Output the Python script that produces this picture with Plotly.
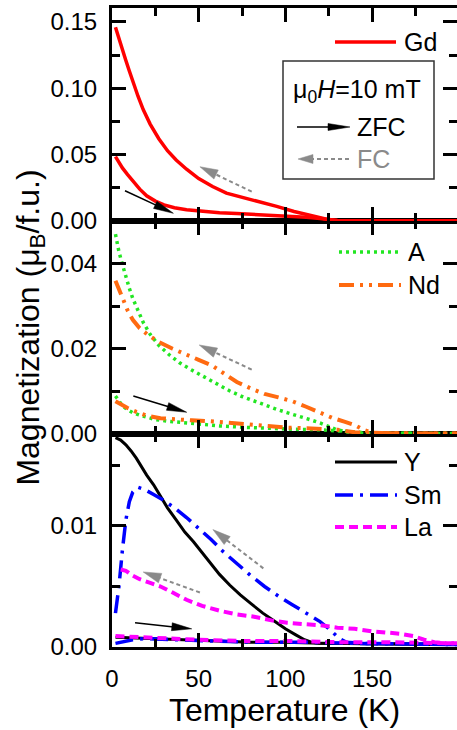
import plotly.graph_objects as go
import math

# ---------------- data ----------------
gd_fc_T = [2, 4, 6, 8, 10, 12, 15, 18, 22, 27, 32, 37, 43, 50, 58, 66, 75, 85, 95, 105, 113, 120, 125, 130, 150, 199]
gd_fc_M = [0.146, 0.137, 0.129, 0.121, 0.113, 0.105, 0.094, 0.084, 0.073, 0.062, 0.053, 0.046, 0.039, 0.032, 0.026, 0.021, 0.018, 0.0145, 0.011, 0.0072, 0.0045, 0.0025, 0.001, 0.0004, 0.0002, 0.0001]
gd_zfc_T = [2, 4, 6, 9, 12, 16, 20, 25, 30, 36, 43, 52, 62, 72, 85, 100, 112, 120, 125, 130, 150, 199]
gd_zfc_M = [0.0485, 0.044, 0.040, 0.035, 0.030, 0.024, 0.019, 0.015, 0.0122, 0.0100, 0.0085, 0.0072, 0.0063, 0.0056, 0.0048, 0.0038, 0.0028, 0.0018, 0.0008, 0.0003, 0.0002, 0.0001]

a_fc_T = [2, 4, 6, 8, 10, 12, 15, 18, 22, 27, 33, 39, 46, 53, 60, 68, 75, 82, 88, 95, 101, 108, 114, 120, 124, 129, 135, 145, 199]
a_fc_M = [0.0469, 0.0428, 0.0398, 0.0368, 0.0342, 0.0318, 0.0288, 0.0262, 0.0234, 0.0208, 0.0186, 0.0167, 0.0150, 0.0134, 0.0118, 0.0101, 0.0088, 0.0077, 0.0068, 0.0058, 0.0050, 0.0042, 0.0034, 0.0026, 0.0020, 0.0011, 0.0005, 0.0002, 0.0001]
a_zfc_T = [2, 4, 6, 9, 12, 16, 20, 25, 32, 40, 50, 62, 75, 90, 105, 120, 130, 140, 150, 199]
a_zfc_M = [0.0089, 0.0076, 0.0066, 0.0057, 0.0050, 0.0044, 0.0039, 0.0034, 0.0030, 0.0027, 0.0023, 0.0019, 0.0016, 0.0013, 0.0011, 0.0010, 0.0008, 0.0004, 0.0002, 0.0001]

nd_fc_T = [2, 4, 6, 9, 12, 16, 21, 27, 35, 43, 50, 58, 65, 72, 80, 88, 96, 104, 112, 120, 127, 134, 140, 145, 150, 160, 199]
nd_fc_M = [0.0360, 0.0340, 0.0317, 0.0290, 0.0268, 0.0248, 0.0232, 0.0216, 0.0200, 0.0187, 0.0174, 0.0160, 0.0140, 0.0122, 0.0107, 0.0094, 0.0086, 0.0077, 0.0064, 0.0050, 0.0038, 0.0029, 0.0021, 0.0010, 0.0003, 0.0002, 0.0001]
nd_zfc_T = [2, 5, 9, 14, 21, 28, 36, 46, 56, 68, 78, 90, 100, 110, 120, 130, 140, 150, 199]
nd_zfc_M = [0.0077, 0.0069, 0.0061, 0.0052, 0.0042, 0.0037, 0.0034, 0.0032, 0.0030, 0.0027, 0.0023, 0.0019, 0.0015, 0.0014, 0.0013, 0.0010, 0.0004, 0.0002, 0.0001]

y_fc_T = [2, 5, 8, 11, 14, 17, 20, 24, 28, 32, 37, 42, 47, 52, 57, 62, 68, 74, 80, 87, 94, 100, 106, 111, 115, 120, 199]
y_fc_M = [0.0173, 0.0171, 0.0167, 0.0162, 0.0156, 0.0149, 0.0142, 0.0134, 0.0125, 0.0115, 0.0105, 0.0095, 0.0087, 0.0078, 0.0069, 0.0060, 0.0051, 0.0043, 0.0036, 0.0028, 0.0021, 0.0015, 0.0010, 0.0006, 0.0004, 0.0003, 0.0002]
y_zfc_T = [2, 20, 40, 60, 80, 100, 120, 199]
y_zfc_M = [0.0008, 0.0007, 0.0006, 0.0005, 0.0004, 0.0004, 0.0003, 0.0002]

sm_fc_T = [2, 4, 6, 8, 10, 12, 15, 19, 24, 30, 36, 43, 50, 57, 64, 72, 80, 88, 96, 104, 112, 120, 126, 131, 135, 145, 199]
sm_fc_M = [0.0028, 0.0050, 0.0080, 0.0105, 0.0120, 0.0128, 0.0132, 0.0130, 0.0126, 0.0121, 0.0115, 0.0107, 0.0098, 0.0089, 0.0079, 0.0069, 0.0059, 0.0050, 0.0042, 0.0035, 0.0028, 0.0021, 0.0014, 0.0007, 0.0004, 0.0003, 0.0002]
sm_zfc_T = [2, 6, 12, 20, 35, 55, 80, 110, 140, 199]
sm_zfc_M = [0.0003, 0.0004, 0.0006, 0.0007, 0.0006, 0.0005, 0.0004, 0.0004, 0.0003, 0.0002]

la_fc_T = [5, 8, 12, 16, 22, 28, 35, 43, 52, 62, 72, 82, 92, 101, 110, 120, 130, 140, 150, 158, 166, 174, 180, 186, 192, 199]
la_fc_M = [0.0064, 0.0063, 0.0059, 0.0056, 0.0053, 0.0050, 0.0045, 0.0039, 0.0034, 0.0030, 0.0027, 0.0025, 0.0022, 0.0020, 0.0019, 0.0018, 0.0016, 0.0015, 0.0013, 0.0012, 0.0011, 0.0009, 0.0006, 0.0004, 0.0003, 0.0003]
la_zfc_T = [2, 15, 30, 50, 75, 100, 130, 160, 199]
la_zfc_M = [0.0009, 0.0008, 0.0007, 0.0006, 0.0005, 0.0005, 0.0004, 0.0004, 0.0003]

x_ticks = [0, 50, 100, 150]
top_ticks = [0.00, 0.05, 0.10, 0.15]
mid_ticks = [0.00, 0.02, 0.04]
bot_ticks = [0.00, 0.01]

# ---------------- layout geometry ----------------
W, H = 457, 730
L, R, TOP, BOT = 112, 457, 8, 647
PH = (BOT - TOP) / 3.0
XR = [0, 199]
YR = {"y": [0, 0.0176], "y2": [0, 0.05], "y3": [0, 0.1605]}
PIDX = {"y": 2, "y2": 1, "y3": 0}
FONT = "Liberation Sans, Arial, sans-serif"

GREEN = "#22e622"
ORANGE = "#ff6a10"
GRAY = "#8a8a8a"

styles = {
    "Gd": dict(color="red", width=3.5, dash="solid"),
    "A": dict(color=GREEN, width=3.5, dash="3px,4px"),
    "Nd": dict(color=ORANGE, width=4, dash="15px,6px,3px,6px,3px,6px"),
    "Y": dict(color="black", width=3, dash="solid"),
    "Sm": dict(color="blue", width=3.5, dash="18px,7px,3px,7px"),
    "La": dict(color="#ff00ff", width=4, dash="9px,5px"),
}

fig = go.Figure()

def add(name, T, M, xa, ya):
    fig.add_trace(go.Scatter(x=T, y=M, mode="lines", name=name, xaxis=xa, yaxis=ya,
                             line=styles[name], showlegend=False, legendgroup=name))

add("Gd", gd_zfc_T, gd_zfc_M, "x3", "y3")
add("Gd", gd_fc_T, gd_fc_M, "x3", "y3")
add("A", a_zfc_T, a_zfc_M, "x2", "y2")
add("A", a_fc_T, a_fc_M, "x2", "y2")
add("Nd", nd_zfc_T, nd_zfc_M, "x2", "y2")
add("Nd", nd_fc_T, nd_fc_M, "x2", "y2")
add("Y", y_zfc_T, y_zfc_M, "x", "y")
add("Y", y_fc_T, y_fc_M, "x", "y")
add("Sm", sm_zfc_T, sm_zfc_M, "x", "y")
add("Sm", sm_fc_T, sm_fc_M, "x", "y")
add("La", la_zfc_T, la_zfc_M, "x", "y")
add("La", la_fc_T, la_fc_M, "x", "y")

# ---------------- axes ----------------
tickfont = dict(family=FONT, size=24, color="black")
common_x = dict(range=XR, showline=True, linewidth=3, linecolor="black", mirror="ticks",
                ticks="inside", ticklen=14, tickwidth=3, tickcolor="black",
                tickmode="array", tickvals=x_ticks,
                minor=dict(ticks="inside", ticklen=8, tickwidth=3, tickcolor="black", dtick=25, tick0=0),
                showgrid=False, zeroline=False, tickfont=tickfont, ticklabelstandoff=8)
common_y = dict(showline=True, linewidth=3, linecolor="black", mirror="ticks",
                ticks="inside", ticklen=14, tickwidth=3, tickcolor="black",
                showgrid=False, zeroline=False, tickfont=tickfont, tickformat=".2f",
                ticklabelstandoff=7)

dom = lambda i: [1 - (i + 1) / 3.0, 1 - i / 3.0]

fig.update_layout(
    width=W, height=H,
    margin=dict(l=L, r=W - R, t=TOP, b=H - BOT, autoexpand=False),
    paper_bgcolor="white", plot_bgcolor="white",
    showlegend=False,
    font=dict(family=FONT, color="black"),
    xaxis=dict(common_x, anchor="y", title=dict(text="Temperature (K)", font=dict(family=FONT, size=32), standoff=4)),
    xaxis2=dict(common_x, anchor="y2", matches="x", showticklabels=False),
    xaxis3=dict(common_x, anchor="y3", matches="x", showticklabels=False),
    yaxis=dict(common_y, domain=dom(2), range=YR["y"], tickmode="array", tickvals=bot_ticks,
               minor=dict(ticks="inside", ticklen=8, tickwidth=3, tickcolor="black", dtick=0.005, tick0=0)),
    yaxis2=dict(common_y, domain=dom(1), range=YR["y2"], tickmode="array", tickvals=mid_ticks,
                minor=dict(ticks="inside", ticklen=8, tickwidth=3, tickcolor="black", dtick=0.01, tick0=0),
                title=dict(text="Magnetization (\u03bc<sub>B</sub>/f.u.)", font=dict(family=FONT, size=32), standoff=0)),
    yaxis3=dict(common_y, domain=dom(0), range=YR["y3"], tickmode="array", tickvals=top_ticks,
                minor=dict(ticks="inside", ticklen=8, tickwidth=3, tickcolor="black", dtick=0.025, tick0=0)),
)

# ---------------- helpers for decorations ----------------
def d2px(T, M, yref):
    x = L + (T - XR[0]) / (XR[1] - XR[0]) * (R - L)
    b = TOP + (PIDX[yref] + 1) * PH
    y0, y1 = YR[yref]
    y = b - (M - y0) / (y1 - y0) * PH
    return x, y

def px2paper(x, y):
    return (x - L) / (R - L), (BOT - y) / (BOT - TOP)

shapes = []
annots = []

def arrow_px(p1, p2, color, dashed, hl, hw, lw):
    dx, dy = p2[0] - p1[0], p2[1] - p1[1]
    n = math.hypot(dx, dy)
    ux, uy = dx / n, dy / n
    nx, ny = -uy, ux
    bx, by = p2[0] - ux * hl, p2[1] - uy * hl
    a = px2paper(*p1)
    b = px2paper(bx + ux * 2, by + uy * 2)
    shapes.append(dict(type="line", xref="paper", yref="paper", x0=a[0], y0=a[1], x1=b[0], y1=b[1],
                       line=dict(color=color, width=lw, dash="4px,3px" if dashed else "solid")))
    pts = [p2, (bx + nx * hw / 2, by + ny * hw / 2), (bx - nx * hw / 2, by - ny * hw / 2)]
    pp = [px2paper(*p) for p in pts]
    path = "M{:.5f},{:.5f} L{:.5f},{:.5f} L{:.5f},{:.5f} Z".format(pp[0][0], pp[0][1], pp[1][0], pp[1][1], pp[2][0], pp[2][1])
    shapes.append(dict(type="path", xref="paper", yref="paper", path=path,
                       fillcolor=color, line=dict(color=color, width=0.5)))

def arrow_data(t1, m1, t2, m2, yref, color, dashed):
    arrow_px(d2px(t1, m1, yref), d2px(t2, m2, yref), color, dashed, 20 if not dashed else 18,
             8 if not dashed else 10, 1.5 if not dashed else 2)

# ZFC (black) and FC (gray) direction arrows
arrow_data(7.5, 0.0228, 35.4, 0.0058, "y3", "black", False)
arrow_data(80.6, 0.0221, 50.7, 0.0409, "y3", GRAY, True)
arrow_data(12.3, 0.0089, 43.1, 0.0051, "y2", "black", False)
arrow_data(80.6, 0.0151, 50.3, 0.0209, "y2", GRAY, True)
arrow_data(13.3, 0.0020, 46.0, 0.0015, "y", "black", False)
arrow_data(50.7, 0.0045, 18.0, 0.0062, "y", GRAY, True)
arrow_data(87.3, 0.0065, 58.2, 0.0097, "y", GRAY, True)

# inset box
bx0, by0 = px2paper(283, 179)
bx1, by1 = px2paper(434, 61)
shapes.append(dict(type="rect", xref="paper", yref="paper", x0=bx0, y0=by0, x1=bx1, y1=by1,
                   line=dict(color="#333333", width=1.5), fillcolor="rgba(0,0,0,0)"))

def text_px(x, y, txt, color="black", xanchor="left", size=25):
    px, py = px2paper(x, y)
    annots.append(dict(x=px, y=py, xref="paper", yref="paper", text=txt, showarrow=False,
                       xanchor=xanchor, yanchor="middle", font=dict(family=FONT, size=size, color=color)))

text_px(357, 91, "\u03bc<sub>0</sub><i>H</i>=10 mT", xanchor="center")
arrow_px((297, 127), (350, 127), "black", False, 22, 7, 1.5)
text_px(355, 127, "ZFC")
arrow_px((349, 159), (298, 159), GRAY, True, 15, 9, 2)
text_px(355, 159, "FC", color=GRAY)

# manual legends
def leg(name, x0, x1, y, tx):
    s = styles[name]
    a = px2paper(x0, y)
    b = px2paper(x1, y)
    shapes.append(dict(type="line", xref="paper", yref="paper", x0=a[0], y0=a[1], x1=b[0], y1=b[1],
                       line=dict(color=s["color"], width=s["width"], dash=s["dash"])))
    text_px(tx, y, name)

leg("Gd", 335, 396, 42, 402)
leg("A", 339, 400, 252, 406)
leg("Nd", 339, 401, 285, 406)
leg("Y", 335, 397, 462, 402)
leg("Sm", 335, 397, 495, 402)
leg("La", 335, 397, 527, 402)

fig.update_layout(shapes=shapes, annotations=annots)
fig.write_html("out.html", config={"displayModeBar": False},
               post_script="document.body.style.margin='0';document.body.style.overflow='hidden';")
